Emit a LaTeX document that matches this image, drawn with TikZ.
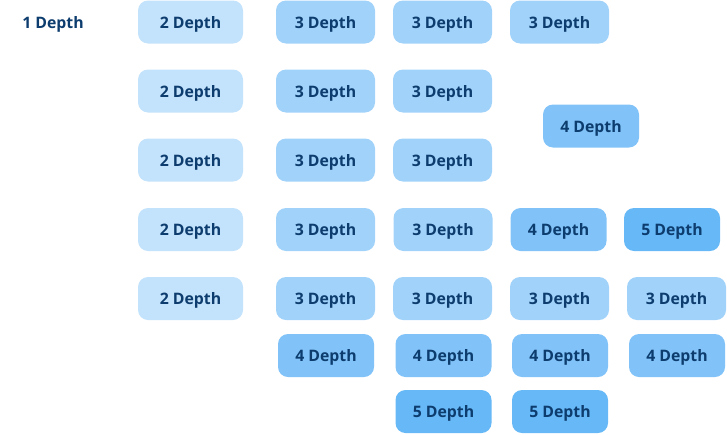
\documentclass[tikz,border=0pt]{standalone}
\usepackage{fontspec}
\setmainfont{Open Sans}
\definecolor{depthtext}{HTML}{0D3C6E}
\definecolor{depthtwo}{HTML}{C3E2FB}
\definecolor{depththree}{HTML}{A1D2FA}
\definecolor{depthfour}{HTML}{81C3F8}
\definecolor{depthfive}{HTML}{67B8F6}
\begin{document}
\begin{tikzpicture}[x=1pt, y=-1pt,
        label text/.style={text=depthtext, font=\fontsize{15.8}{18}\selectfont\bfseries, text height=12.6pt, text depth=0pt},
        box/.style={label text, rectangle, rounded corners=10pt, minimum height=43pt, inner sep=0pt},
        dtwo/.style={box, fill=depthtwo, minimum width=105pt},
        dthree/.style={box, fill=depththree, minimum width=99pt},
        dfour/.style={box, fill=depthfour, minimum width=96pt},
        dfive/.style={box, fill=depthfive, minimum width=96pt}]
        \useasboundingbox (0,0) rectangle (727,434);
        \node[label text] (root) at (53,22) {1 Depth};

        \node[dtwo] (twoa) at (190.5,22) {2 Depth};
        \node[dtwo] (twob) at (190.5,91) {2 Depth};
        \node[dtwo] (twoc) at (190.5,160) {2 Depth};
        \node[dtwo] (twod) at (190.5,229.5) {2 Depth};
        \node[dtwo] (twoe) at (190.5,298.5) {2 Depth};

        \node[dthree] (threeaa) at (325.5,22) {3 Depth};
        \node[dthree] (threeab) at (442.5,22) {3 Depth};
        \node[dthree] (threeac) at (559.5,22) {3 Depth};
        \node[dthree] (threeba) at (325.5,91) {3 Depth};
        \node[dthree] (threebb) at (442.5,91) {3 Depth};
        \node[dthree] (threeca) at (325.5,160) {3 Depth};
        \node[dthree] (threecb) at (442.5,160) {3 Depth};
        \node[dthree] (threeda) at (325.5,229.5) {3 Depth};
        \node[dthree] (threedb) at (443,229.5) {3 Depth};
        \node[dthree] (threeea) at (325.5,298.5) {3 Depth};
        \node[dthree] (threeeb) at (442.5,298.5) {3 Depth};
        \node[dthree] (threeec) at (559.5,298.5) {3 Depth};
        \node[dthree] (threeed) at (676.5,298.5) {3 Depth};

        \node[dfour] (fourb) at (591,126) {4 Depth};
        \node[dfour] (fourd) at (558.5,229.5) {4 Depth};
        \node[dfour] (fourea) at (326,355.5) {4 Depth};
        \node[dfour] (foureb) at (443.5,355.5) {4 Depth};
        \node[dfour] (fourec) at (560,355.5) {4 Depth};
        \node[dfour] (foured) at (677,355.5) {4 Depth};

        \node[dfive] (fived) at (672,229.5) {5 Depth};
        \node[dfive] (fiveea) at (443.5,411.5) {5 Depth};
        \node[dfive] (fiveeb) at (560,411.5) {5 Depth};
    \end{tikzpicture}
\end{document}
